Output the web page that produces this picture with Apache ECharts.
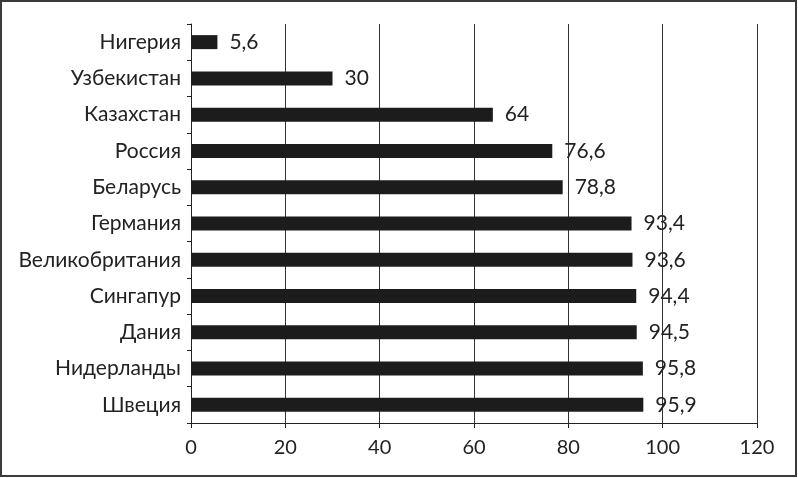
<!DOCTYPE html>
<html><head><meta charset="utf-8">
<script src="https://cdn.jsdelivr.net/npm/echarts@6/dist/echarts.min.js"></script>
<style>html,body{margin:0;padding:0;background:#fff}#c{width:798px;height:478px}</style>
</head><body><div id="c"></div>
<script>
const categories = ['Нигерия','Узбекистан','Казахстан','Россия','Беларусь','Германия','Великобритания','Сингапур','Дания','Нидерланды','Швеция'];
const values = [5.6, 30, 64, 76.6, 78.8, 93.4, 93.6, 94.4, 94.5, 95.8, 95.9];
const xTicks = [0, 20, 40, 60, 80, 100, 120];

const chart = echarts.init(document.getElementById('c'), null, {renderer:'canvas'});
const FONT = 'Lato';
chart.setOption({
  animation:false,
  backgroundColor:'#fff',
  graphic:[{type:'rect', shape:{x:1,y:1,width:795,height:475}, style:{fill:'none', stroke:'#3a3a3a', lineWidth:2}}],
  grid:{left:191, right:41, top:24, bottom:55, containLabel:false},
  xAxis:{
    type:'value', min:xTicks[0], max:xTicks[xTicks.length-1], interval:20,
    axisLine:{show:true, lineStyle:{color:'#222', width:1}},
    axisTick:{show:true, length:5, lineStyle:{color:'#222'}},
    axisLabel:{fontFamily:FONT, fontSize:20, color:'#222', margin:15},
    splitLine:{show:true, lineStyle:{color:'#333', width:1}}
  },
  yAxis:{
    type:'category', data:categories, inverse:true,
    axisLine:{show:true, lineStyle:{color:'#222', width:1}},
    axisTick:{show:true, length:4, lineStyle:{color:'#222'}},
    axisLabel:{fontFamily:FONT, fontSize:21, color:'#222', margin:10}
  },
  series:[{
    type:'bar', data:values, barWidth:14,
    itemStyle:{color:'#1c1c1c'},
    label:{show:true, position:'right', distance:12, fontFamily:FONT, fontSize:21, color:'#222',
      formatter:p=>String(p.value).replace('.',',')}
  }]
});
</script></body></html>
